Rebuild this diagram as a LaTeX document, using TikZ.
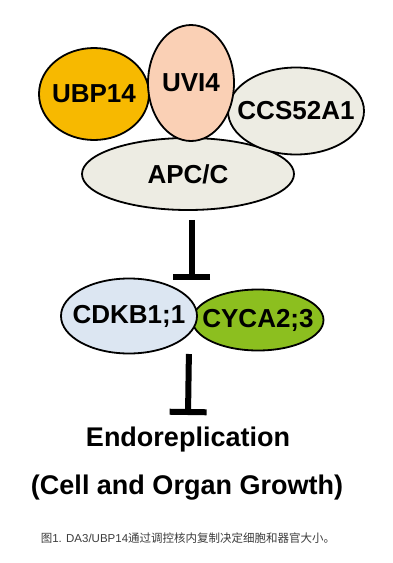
\documentclass[tikz,border=0pt]{standalone}
\usepackage{fontspec}
\setmainfont{Liberation Sans}
\newfontfamily\cjk{Noto Sans CJK SC}
\usetikzlibrary{arrows.meta,shapes.geometric}
\definecolor{myorange}{RGB}{247,185,0}
\definecolor{mypeach}{RGB}{250,208,181}
\definecolor{mybeige}{RGB}{237,236,227}
\definecolor{mylblue}{RGB}{220,230,242}
\definecolor{mygreen}{RGB}{140,191,31}
\definecolor{mygray}{RGB}{60,60,60}
\newcommand{\zlab}[1]{\makebox[0pt]{#1}}
\begin{document}
\begin{tikzpicture}[x=1pt,y=-1pt,
  enode/.style={ellipse,draw,line width=1.8pt,inner sep=0pt,
               font=\fontsize{26}{28}\selectfont\bfseries},
  inh/.style={line width=6pt,-{Bar[width=37pt]}}]
\useasboundingbox (0,0) rectangle (392,563);
\node[enode,fill=mybeige,minimum width=212pt,minimum height=72pt]  (apc) at (188,174) {\zlab{APC/C}};
\node[enode,fill=myorange,minimum width=110pt,minimum height=92pt] (ubp) at (94,94)   {\zlab{UBP14}};
\node[enode,fill=mybeige,minimum width=136pt,minimum height=87pt]  (ccs) at (296,111) {\zlab{CCS52A1}};
\node[enode,fill=mypeach,minimum width=86pt,minimum height=116pt]  (uvi) at (191,83)  {\zlab{UVI4}};
\node[enode,fill=mygreen,minimum width=131pt,minimum height=61pt]  (cyc) at (258,320) {\zlab{CYCA2;3}};
\node[enode,fill=mylblue,minimum width=136pt,minimum height=75pt]  (cdk) at (129,316) {\zlab{CDKB1;1}};
\node[font=\fontsize{27}{29}\selectfont\bfseries] (endo) at (188,440) {Endoreplication};
\node[font=\fontsize{27}{29}\selectfont\bfseries] (grow) at (187,488) {(Cell and Organ Growth)};
\node[font=\fontsize{11.5}{14}\selectfont,text=mygray] (cap) at (188,538)
  {{\cjk 图}1. DA3/UBP14{\cjk 通过调控核内复制决定细胞和器官大小。}};
\coordinate (bar1) at (191.5,280);
\coordinate (bar2) at (188,415);
\draw[inh] ([xshift=3.5pt,yshift=-9pt]apc.south) -- (bar1);
\draw[inh] ([xshift=-9pt,yshift=-38pt]cdk.east) -- (bar2);
\end{tikzpicture}
\end{document}
